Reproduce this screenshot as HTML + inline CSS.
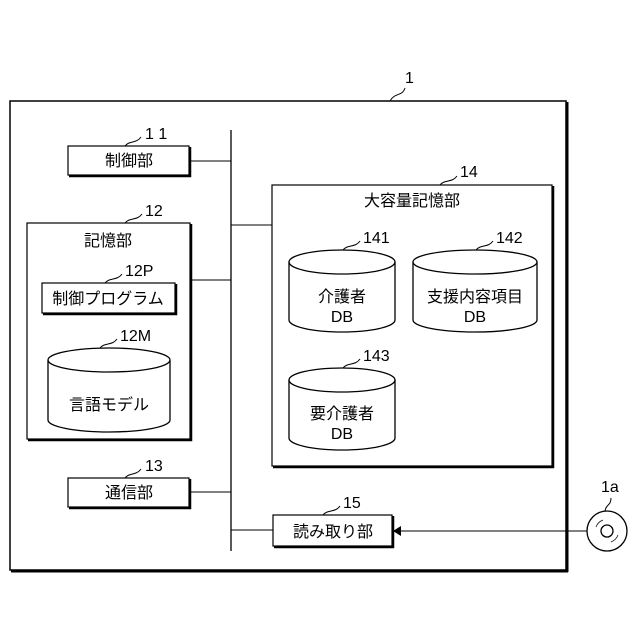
<!DOCTYPE html>
<html><head><meta charset="utf-8"><style>
html,body{margin:0;padding:0;background:#fff}
svg{display:block}
text{font-family:"Liberation Sans","Noto Sans CJK JP",sans-serif;fill:#000}
.j{font-size:16px}
.n{font-size:16px}
</style></head><body>
<svg width="640" height="640" viewBox="0 0 640 640" xmlns="http://www.w3.org/2000/svg">
<g fill="none" stroke="#000">
<rect x="10" y="101" width="556" height="469" stroke-width="1.5"/>
<line x1="567" y1="102" x2="567" y2="572" stroke-width="3"/>
<line x1="11" y1="571" x2="568" y2="571" stroke-width="3"/>
<path d="M390 101 C395 92,402 97,405 88" stroke-width="1"/>
<line x1="231" y1="130" x2="231" y2="551" stroke-width="1.3"/>
<line x1="190" y1="161" x2="231" y2="161"/>
<line x1="191" y1="280" x2="231" y2="280"/>
<line x1="231" y1="225" x2="272" y2="225"/>
<line x1="190" y1="492" x2="231" y2="492"/>
<line x1="231" y1="530" x2="273" y2="530"/>
<rect x="68" y="146" width="121" height="29" stroke-width="1.2"/>
<path d="M190 147 V176 H69" stroke-width="2.5"/>
<path d="M125 146 C130 140,136 144,141 137"/>
<rect x="27" y="223" width="163" height="216" stroke-width="1.2"/>
<path d="M191 224 V440 H28" stroke-width="2.5"/>
<path d="M125 223 C130 217,137 221,142 214"/>
<rect x="42" y="283" width="133" height="30" stroke-width="1.2"/>
<path d="M176 284 V314 H43" stroke-width="2.5"/>
<path d="M105 283 C110 277,117 281,122 274"/>
<path d="M48 360 V420 A61 12 0 0 0 170 420 V360" stroke-width="1.3"/>
<ellipse cx="109" cy="360" rx="61" ry="12" stroke-width="1.3"/>
<path d="M100 348 C105 342,112 346,117 339"/>
<rect x="68" y="478" width="121" height="29" stroke-width="1.2"/>
<path d="M190 479 V508 H69" stroke-width="2.5"/>
<path d="M125 478 C130 472,136 476,141 469"/>
<rect x="272" y="185" width="280" height="281" stroke-width="1.2"/>
<path d="M553 186 V467 H273" stroke-width="2.5"/>
<path d="M440 185 C445 179,452 183,457 176"/>
<path d="M289 262 V320 A53 12 0 0 0 395 320 V262" stroke-width="1.3"/>
<ellipse cx="342" cy="262" rx="53" ry="12" stroke-width="1.3"/>
<path d="M343 250 C348 244,355 248,360 241"/>
<path d="M413 262 V320 A62 12 0 0 0 537 320 V262" stroke-width="1.3"/>
<ellipse cx="475" cy="262" rx="62" ry="12" stroke-width="1.3"/>
<path d="M476 250 C481 244,488 248,493 241"/>
<path d="M289 380 V438 A53 12 0 0 0 395 438 V380" stroke-width="1.3"/>
<ellipse cx="342" cy="380" rx="53" ry="12" stroke-width="1.3"/>
<path d="M343 368 C348 362,355 366,360 359"/>
<rect x="273" y="515" width="119" height="31" stroke-width="1.2"/>
<path d="M393 516 V547 H274" stroke-width="2.5"/>
<path d="M323 515 C328 509,335 513,340 506"/>
<line x1="400" y1="531" x2="587" y2="531"/>
<circle cx="607" cy="531" r="20" stroke-width="1.3"/>
<circle cx="607" cy="531" r="6" stroke-width="1.3"/>
<path d="M596 527 A12 12 0 0 1 603 520 M618 535 A12 12 0 0 1 611 542" stroke-width="0.7"/>
<path d="M605 511 C606 504,611 506,611 498"/>
</g>
<polygon points="393,531 401,526 401,536" fill="#000"/>
<text class="n" x="405" y="83">1</text>
<text class="n" x="145" y="139">1 1</text>
<text class="j" x="129" y="166" text-anchor="middle">制御部</text>
<text class="n" x="145" y="216">12</text>
<text class="j" x="108" y="246" text-anchor="middle">記憶部</text>
<text class="n" x="125" y="276">12P</text>
<text class="j" x="108" y="304" text-anchor="middle">制御プログラム</text>
<text class="n" x="120" y="341">12M</text>
<text class="j" x="109" y="410" text-anchor="middle">言語モデル</text>
<text class="n" x="145" y="471">13</text>
<text class="j" x="129" y="498" text-anchor="middle">通信部</text>
<text class="n" x="460" y="177">14</text>
<text class="j" x="412" y="206" text-anchor="middle">大容量記憶部</text>
<text class="n" x="363" y="243">141</text>
<text class="j" x="342" y="302" text-anchor="middle">介護者</text>
<text class="j" x="342" y="322" text-anchor="middle">DB</text>
<text class="n" x="496" y="243">142</text>
<text class="j" x="475" y="302" text-anchor="middle">支援内容項目</text>
<text class="j" x="475" y="322" text-anchor="middle">DB</text>
<text class="n" x="363" y="361">143</text>
<text class="j" x="342" y="419" text-anchor="middle">要介護者</text>
<text class="j" x="342" y="439" text-anchor="middle">DB</text>
<text class="n" x="343" y="508">15</text>
<text class="j" x="333" y="537" text-anchor="middle">読み取り部</text>
<text class="n" x="601" y="492">1a</text>
</svg>
</body></html>
